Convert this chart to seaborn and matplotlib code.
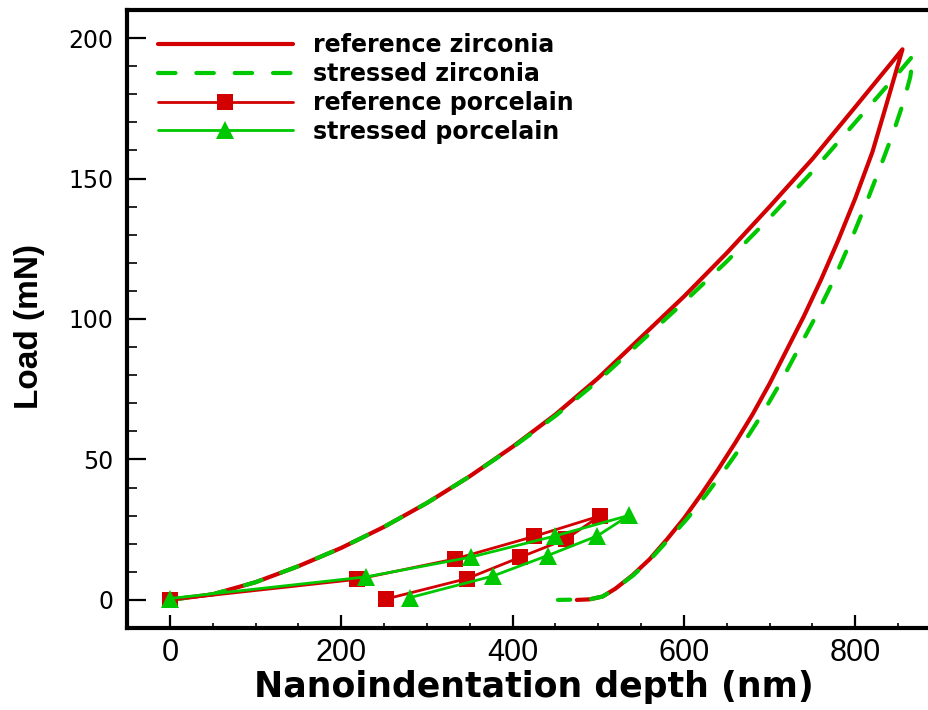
import matplotlib
matplotlib.use("Agg")
import matplotlib.pyplot as plt
from matplotlib import font_manager
from matplotlib.font_manager import FontProperties
from matplotlib.ticker import MultipleLocator
import seaborn as sns
import pandas as pd

# ---------------- data ----------------
# Zirconia, reference: loading branch then unloading branch (depth nm, load mN)
ref_zr_load_depth = [0, 50, 100, 150, 200, 250, 300, 350, 400, 450, 500, 550,
                     600, 650, 700, 750, 800, 855]
ref_zr_load_force = [0, 2.0, 6.3, 12.0, 18.5, 26.0, 34.5, 44.0, 54.5, 66.0, 79.0,
                     93.5, 108.0, 123.5, 140.0, 157.0, 175.5, 196.0]
ref_zr_unload_depth = [845, 835, 820, 800, 780, 760, 740, 720, 700, 680, 660,
                       640, 620, 600, 580, 560, 540, 520, 505, 490, 475]
ref_zr_unload_force = [185.5, 175, 159.5, 143, 128, 114, 101, 89, 77, 66, 56,
                       46.5, 37.5, 29, 21.5, 14.5, 8.8, 4.0, 1.2, 0.2, 0]

# Zirconia, stressed
str_zr_load_depth = [0, 50, 100, 150, 200, 250, 300, 350, 400, 450, 500, 550,
                     600, 650, 700, 750, 800, 850, 868]
str_zr_load_force = [0, 2.0, 6.3, 12.0, 18.5, 26.0, 34.5, 44.0, 54.3, 65.5, 78.0,
                     92.0, 106.0, 120.5, 136.0, 152.5, 170.0, 187.5, 194.0]
str_zr_unload_depth = [864, 856, 845, 834, 815, 795, 775, 754, 733, 712, 691,
                       670, 648, 626, 604, 582, 561, 541, 520, 505, 490, 453]
str_zr_unload_force = [186, 177, 167, 158, 143, 128, 114, 101, 89, 77, 66,
                       56, 46.5, 37.5, 29, 21.5, 14.5, 8.8, 4.0, 1.2, 0.2, 0]

# Porcelain, reference and stressed (loading up to the peak, then unloading)
ref_pc_depth = [0, 218, 333, 425, 502, 462, 409, 347, 252]
ref_pc_force = [0, 7.3, 14.6, 22.6, 29.9, 21.6, 15.2, 7.6, 0.3]
str_pc_depth = [0, 229, 351, 450, 536, 499, 441, 377, 280]
str_pc_force = [0.5, 8.2, 15.2, 22.8, 30.1, 22.8, 15.8, 8.5, 0.8]

series_labels = ["reference zirconia", "stressed zirconia",
                 "reference porcelain", "stressed porcelain"]

x_label = "Nanoindentation depth (nm)"
y_label = "Load (mN)"

# ---------------- style ----------------
sns.set_theme(style="white")
plt.rcParams["font.family"] = ["DejaVu Sans"]


def font_available(name):
    try:
        font_manager.findfont(FontProperties(family=name), fallback_to_default=False)
        return True
    except ValueError:
        return False


narrow_family = next((f for f in ["Liberation Sans Narrow", "Liberation Sans"]
                      if font_available(f)), "DejaVu Sans")
arial_like = "Liberation Sans" if font_available("Liberation Sans") else "DejaVu Sans"

RED = "#d20000"
GREEN = "#00c800"

fig = plt.figure(figsize=(9.29, 7.10), dpi=100)
ax = fig.add_axes([127 / 929, 82 / 710, 814 / 929, 618 / 710])

ref_zr = pd.DataFrame({"depth": ref_zr_load_depth + ref_zr_unload_depth,
                       "load": ref_zr_load_force + ref_zr_unload_force})
str_zr = pd.DataFrame({"depth": str_zr_load_depth + str_zr_unload_depth,
                       "load": str_zr_load_force + str_zr_unload_force})
ref_pc = pd.DataFrame({"depth": ref_pc_depth, "load": ref_pc_force})
str_pc = pd.DataFrame({"depth": str_pc_depth, "load": str_pc_force})

sns.lineplot(data=ref_zr, x="depth", y="load", sort=False, estimator=None, ax=ax,
             color=RED, linewidth=3.0, label=series_labels[0],
             solid_capstyle="round", solid_joinstyle="round")
sns.lineplot(data=str_zr, x="depth", y="load", sort=False, estimator=None, ax=ax,
             color=GREEN, linewidth=3.0, label=series_labels[1],
             linestyle=(0, (4.2, 5.0)), dash_capstyle="round")
sns.lineplot(data=ref_pc, x="depth", y="load", sort=False, estimator=None, ax=ax,
             color=RED, linewidth=2.0, label=series_labels[2],
             marker="s", markersize=12, markeredgecolor=RED, markeredgewidth=0)
sns.lineplot(data=str_pc, x="depth", y="load", sort=False, estimator=None, ax=ax,
             color=GREEN, linewidth=2.0, label=series_labels[3],
             marker="^", markersize=13, markeredgecolor=GREEN, markeredgewidth=0)

# ---------------- axes ----------------
ax.set_xlim(-50, 900)
ax.set_ylim(-10, 210)
ax.xaxis.set_major_locator(MultipleLocator(200))
ax.xaxis.set_minor_locator(MultipleLocator(50))
ax.yaxis.set_major_locator(MultipleLocator(50))
ax.yaxis.set_minor_locator(MultipleLocator(10))

for side in ["left", "bottom", "top"]:
    ax.spines[side].set_visible(True)
    ax.spines[side].set_color("black")
    ax.spines[side].set_linewidth(3.0)
ax.spines["right"].set_visible(False)

ax.tick_params(axis="x", which="major", direction="in", length=9.5, width=1.6,
               color="black", bottom=True, top=False, pad=7)
ax.tick_params(axis="x", which="minor", direction="in", length=3.6, width=1.2,
               color="black", bottom=True, top=False)
ax.tick_params(axis="y", which="major", direction="in", length=13.5, width=1.6,
               color="black", left=True, right=False, pad=10)
ax.tick_params(axis="y", which="minor", direction="in", length=7.0, width=1.2,
               color="black", left=True, right=False)

for lab in ax.get_xticklabels():
    lab.set_fontfamily(narrow_family)
    lab.set_fontsize(22)
    lab.set_color("black")
for lab in ax.get_yticklabels():
    lab.set_fontfamily("DejaVu Sans")
    lab.set_fontsize(17)
    lab.set_color("black")

ax.set_xlabel(x_label, fontsize=25, fontweight="bold", family="DejaVu Sans",
              color="black")
ax.set_ylabel(y_label, fontsize=24, fontweight="bold", family=arial_like,
              color="black")
# axis titles centred below / left of the plotting box
ax.xaxis.set_label_coords((534 - 127) / 814, -(687 - 628) / 618)
ax.xaxis.label.set_verticalalignment("center")
ax.yaxis.set_label_coords(-(127 - 30) / 814, (628 - 326) / 618)
ax.yaxis.label.set_verticalalignment("center")
ax.grid(False)
ax.set_facecolor("white")

leg = ax.legend(loc="upper left", bbox_to_anchor=(0.038, 0.962), frameon=False,
                handlelength=5.7, handletextpad=0.85, labelspacing=0.2,
                borderaxespad=0, borderpad=0, numpoints=1,
                prop=FontProperties(family="DejaVu Sans", weight="bold", size=17))
for txt in leg.get_texts():
    txt.set_color("black")

fig.savefig("out.png", dpi=100, facecolor="white")
